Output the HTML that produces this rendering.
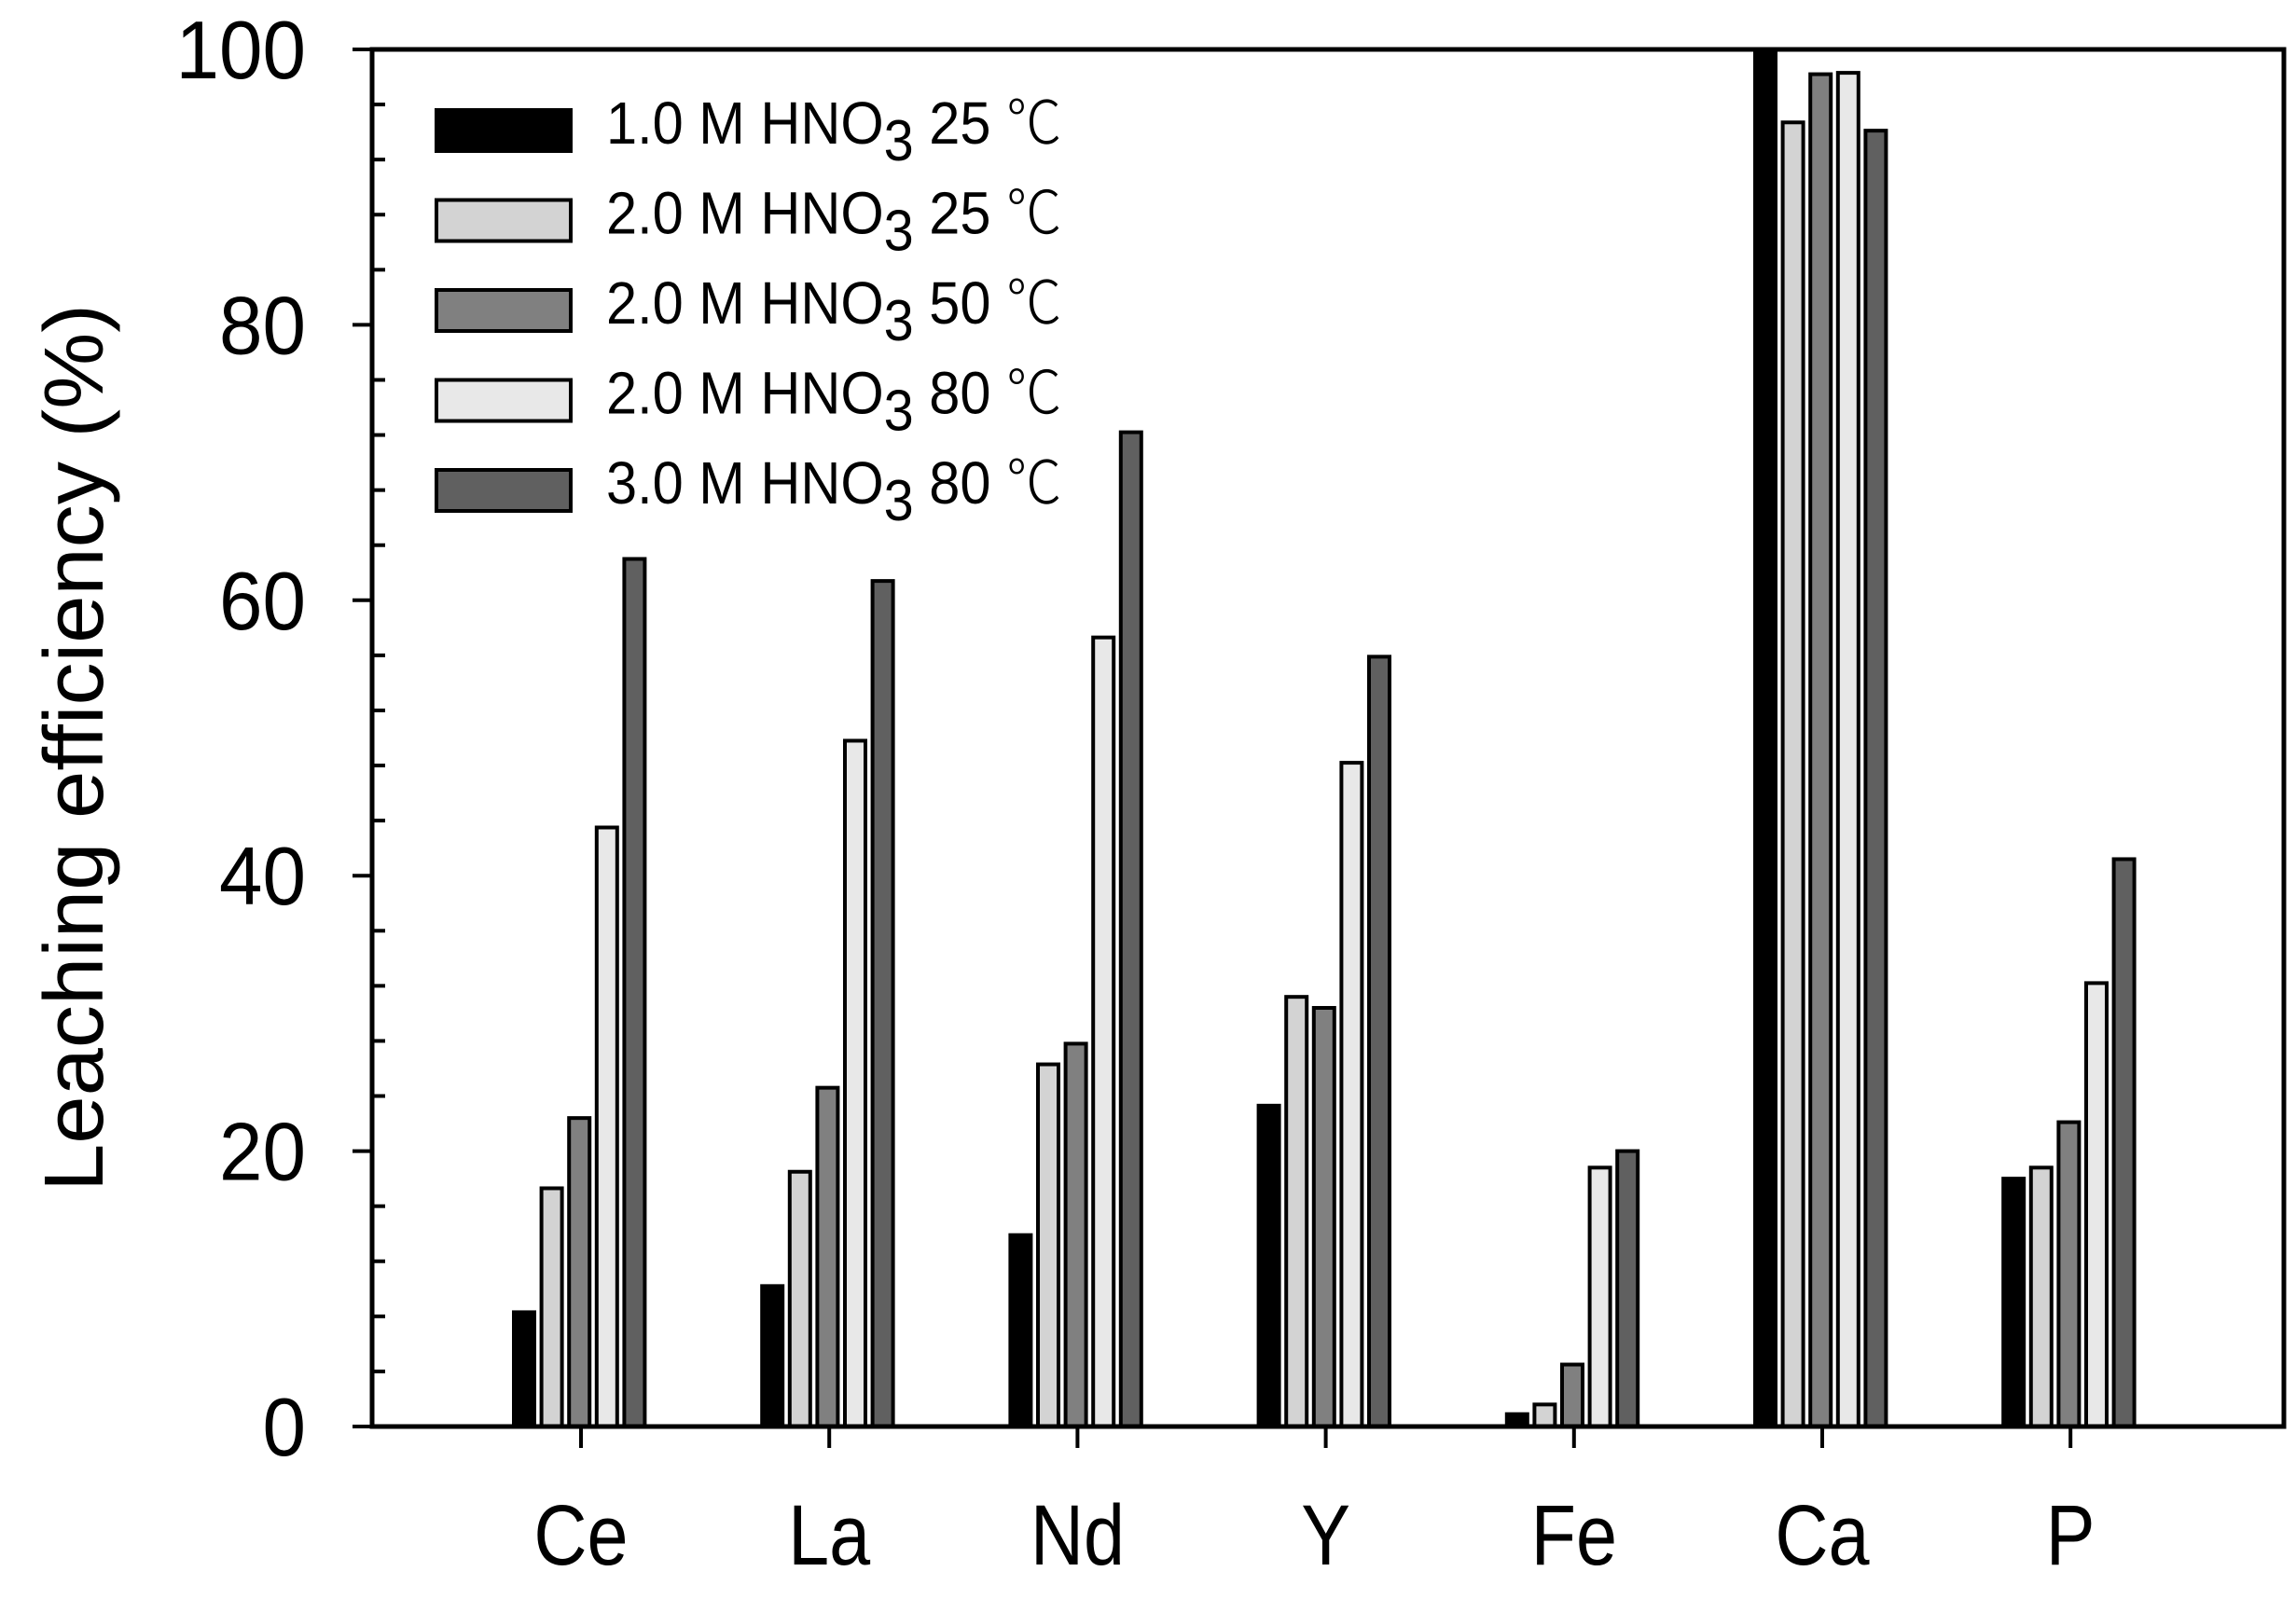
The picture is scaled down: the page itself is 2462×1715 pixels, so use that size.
<!DOCTYPE html>
<html><head><meta charset="utf-8"><style>
html,body{margin:0;padding:0;background:#fff;}
svg{display:block;}
text{font-family:"Liberation Sans",sans-serif;fill:#000;}
</style></head><body>
<svg width="2462" height="1715" viewBox="0 0 2462 1715" xmlns="http://www.w3.org/2000/svg">
<g id="bars" stroke="#000" stroke-width="4"></g>
<g stroke="#000" stroke-width="5" fill="none">
<rect x="399" y="53" width="2050" height="1477"/>
</g>
<g id="ticks" stroke="#000" stroke-width="4"></g>
<g id="labels"></g>
<text transform="translate(110,802) rotate(-90)" font-size="90" text-anchor="middle" textLength="952" lengthAdjust="spacingAndGlyphs">Leaching efficiency (%)</text>
<g id="legend"></g>
<script>
var ns="http://www.w3.org/2000/svg";
function el(p,t,a,txt){var e=document.createElementNS(ns,t);for(var k in a)e.setAttribute(k,a[k]);if(txt!=null)e.textContent=txt;document.getElementById(p).appendChild(e);return e;}
var y0=1530,ppu=14.77;
var cols=["#000","#d3d3d3","#808080","#e8e8e8","#606060"];
var cats=["Ce","La","Nd","Y","Fe","Ca","P"];
var vals=[[8.3,17.3,22.4,43.5,63],[10.2,18.5,24.6,49.8,61.4],[13.9,26.3,27.8,57.3,72.2],[23.3,31.2,30.4,48.2,55.9],[0.9,1.6,4.5,18.8,20],[100,94.7,98.2,98.3,94.1],[18,18.8,22.1,32.2,41.2]];
for(var c=0;c<7;c++){
 var cx=623+266.2*c;
 for(var i=0;i<5;i++){
  var x=cx-74+29.6*i+2, h=vals[c][i]*ppu;
  el("bars","rect",{x:x,y:y0-h,width:22,height:h,fill:cols[i]});
 }
 el("ticks","line",{x1:cx,y1:y0,x2:cx,y2:1553});
 el("labels","text",{x:cx,y:1678,"font-size":92,"text-anchor":"middle",transform:"translate("+cx+",0) scale(0.86,1) translate("+(-cx)+",0)"},cats[c]);
}
for(var v=0;v<=100;v+=4){
 var y=y0-v*ppu;
 if(v%20==0){el("ticks","line",{x1:378,y1:y,x2:399,y2:y});
  el("labels","text",{x:328,y:y+31,"font-size":88,"text-anchor":"end",transform:"translate(328,0) scale(0.95,1) translate(-328,0)"},String(v));}
 else el("ticks","line",{x1:399,y1:y,x2:413,y2:y});
}
var L=[["1.0","25"],["2.0","25"],["2.0","50"],["2.0","80"],["3.0","80"]];
for(var i=0;i<5;i++){
 var cy=140+96.5*i;
 el("legend","rect",{x:468,y:cy-22,width:144,height:44,fill:cols[i],stroke:"#000","stroke-width":4});
 var t=el("legend","text",{x:650,y:cy+14,"font-size":64,transform:"translate(650,0) scale(0.93,1) translate(-650,0)"});
 t.appendChild(document.createTextNode(L[i][0]+" M HNO"));
 var s=document.createElementNS(ns,"tspan");s.setAttribute("dy","18");s.setAttribute("font-size","62");s.textContent="3";t.appendChild(s);
 var s2=document.createElementNS(ns,"tspan");s2.setAttribute("dy","-18");s2.textContent=" "+L[i][1]+" ";t.appendChild(s2);
 var s3=document.createElementNS(ns,"tspan");s3.setAttribute("style","font-family:'Noto Sans CJK JP',sans-serif;font-weight:300");s3.textContent="\u2103";t.appendChild(s3);
}
</script>
</svg>
</body></html>
